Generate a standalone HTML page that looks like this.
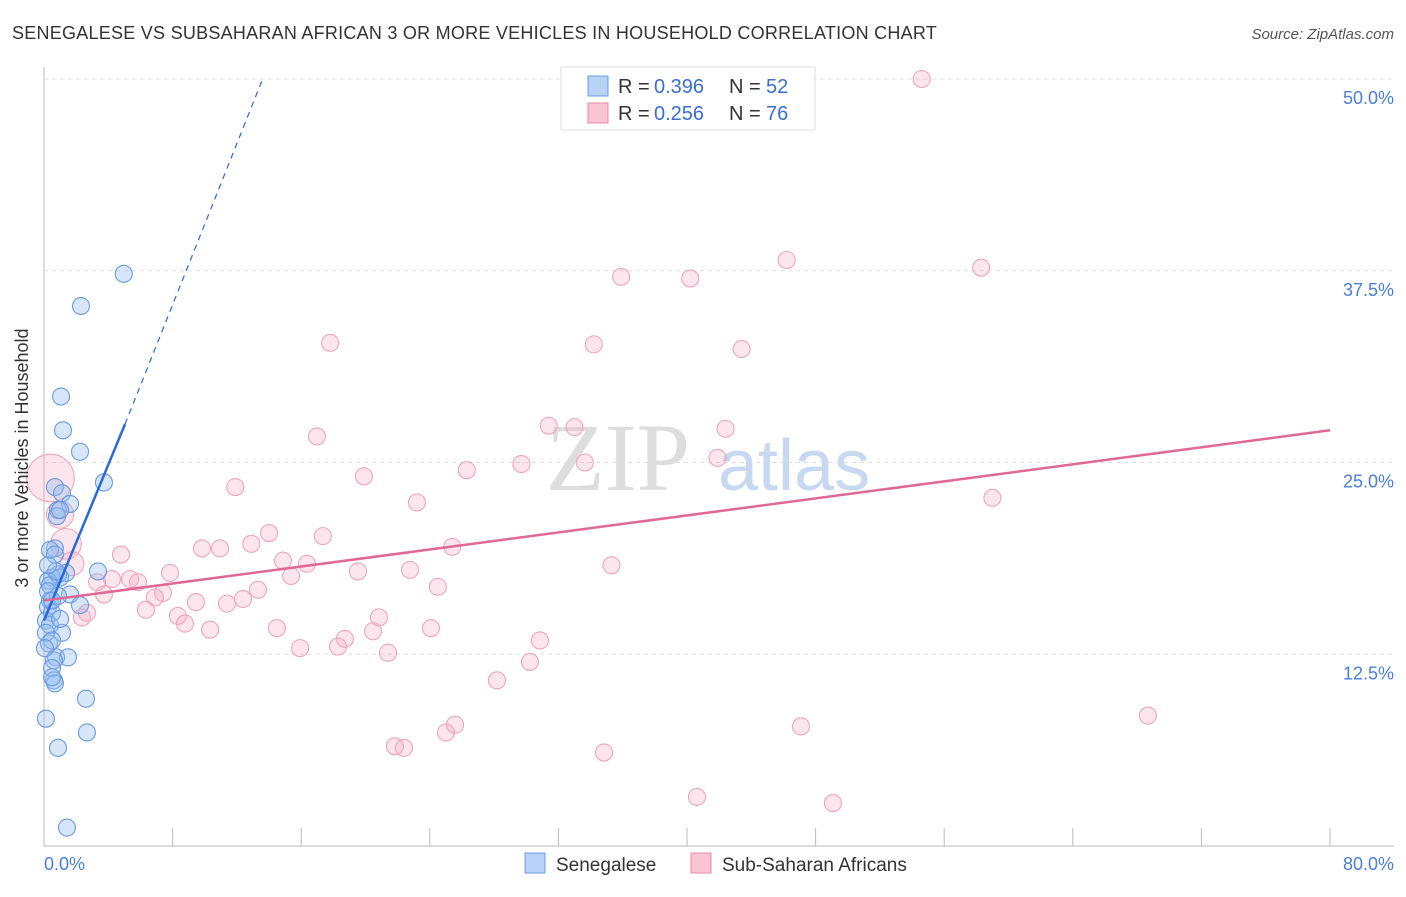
<!DOCTYPE html>
<html><head><meta charset="utf-8"><style>
body{margin:0;background:#fff;font-family:"Liberation Sans",sans-serif}
</style></head><body>
<svg width="1406" height="892" viewBox="0 0 1406 892" xmlns="http://www.w3.org/2000/svg">
<text x="12" y="39" font-size="18" fill="#333" letter-spacing="0.25">SENEGALESE VS SUBSAHARAN AFRICAN 3 OR MORE VEHICLES IN HOUSEHOLD CORRELATION CHART</text>
<text x="1394" y="39" font-size="15" fill="#555" font-style="italic" text-anchor="end">Source: ZipAtlas.com</text>
<g id="grid"></g>
<text x="690" y="490" font-size="96" fill="#ddd" font-family="Liberation Serif" text-anchor="end">ZIP</text>
<text x="718" y="490" font-size="72" fill="#c8d8f0">atlas</text>
<g id="pts"></g>
<g id="lines"></g>
<text x="28" y="458" font-size="18" fill="#333" transform="rotate(-90 28 458)" text-anchor="middle">3 or more Vehicles in Household</text>
<text x="44" y="870" font-size="18" fill="#4a7fd4">0.0%</text>
<text x="1394" y="870" font-size="18" fill="#4a7fd4" text-anchor="end">80.0%</text>
<g>
<rect x="561" y="67" width="254" height="63" fill="#fff" stroke="#ddd"/>
<rect x="588" y="76" width="20" height="20" fill="#b8d2f5" stroke="#6a9be0"/>
<rect x="588" y="103" width="20" height="20" fill="#fac4d4" stroke="#e88aa8"/>
<text x="618" y="93" font-size="20" fill="#333">R =</text>
<text x="654" y="93" font-size="20" fill="#3a6fd0">0.396</text>
<text x="729" y="93" font-size="20" fill="#333">N =</text>
<text x="766" y="93" font-size="20" fill="#3a6fd0">52</text>
<text x="618" y="120" font-size="20" fill="#333">R =</text>
<text x="654" y="120" font-size="20" fill="#3a6fd0">0.256</text>
<text x="729" y="120" font-size="20" fill="#333">N =</text>
<text x="766" y="120" font-size="20" fill="#3a6fd0">76</text>
</g>
<g>
<rect x="525" y="853" width="20" height="20" fill="#b8d2f5" stroke="#6a9be0"/>
<text x="556" y="871" font-size="19" fill="#333">Senegalese</text>
<rect x="691" y="853" width="20" height="20" fill="#fac4d4" stroke="#e88aa8"/>
<text x="722" y="871" font-size="19" fill="#333">Sub-Saharan Africans</text>
</g>
</svg>
<script>
const yTicks=[12.5,25,37.5,50];
const yTickLabels=["12.5%","25.0%","37.5%","50.0%"];
const xTicks=[0,8,16,24,32,40,48,56,64,72,80];
const blueX=[4.96,2.3,1.06,1.18,2.24,3.73,0.68,1.12,1.62,0.87,0.81,1.0,0.68,0.37,3.36,1.37,0.87,0.5,1.0,0.25,0.37,0.75,1.62,2.24,0.37,0.25,0.5,0.12,0.37,1.12,0.31,0.75,1.49,0.62,0.5,0.62,0.68,0.5,2.61,0.12,2.67,0.87,1.43,0.25,0.12,0.5,0.87,0.68,0.25,0.5,1.0,0.06];
const blueY=[37.3,35.2,29.3,27.1,25.7,23.7,23.4,23.0,22.3,21.9,21.5,21.9,19.4,19.3,17.9,17.8,17.7,17.5,17.5,17.3,17.0,17.9,16.4,15.7,16.0,15.6,15.2,14.7,14.4,13.9,13.2,12.3,12.3,12.1,11.6,10.8,10.6,11.0,9.6,8.3,7.4,6.4,1.2,16.6,13.9,13.4,16.3,19.0,18.3,16.0,14.8,12.9];
const pinkX=[54.6,46.2,58.3,35.9,40.2,17.8,34.2,43.4,16.98,31.4,33.0,42.4,33.65,29.7,41.9,26.3,19.9,11.9,59.0,23.2,14.0,17.35,12.9,9.83,10.95,25.4,4.79,14.87,16.36,35.3,19.53,22.77,7.84,15.37,4.23,5.35,5.85,3.3,24.5,13.31,7.4,3.73,6.9,12.38,11.38,9.45,6.34,8.33,2.67,2.36,8.77,20.84,10.33,14.49,24.07,20.47,18.72,30.85,18.29,15.93,21.4,30.23,28.18,68.67,47.09,25.57,25.01,21.83,22.39,34.84,40.62,49.08,0.4,1.0,1.37,1.74];
const pinkY=[50.0,38.2,37.7,37.1,37.0,32.8,32.7,32.4,26.7,27.4,27.3,27.2,25.0,24.9,25.3,24.5,24.1,23.4,22.7,22.4,20.4,20.2,19.7,19.4,19.4,19.5,19.0,18.6,18.4,18.3,17.9,18.0,17.8,17.6,17.4,17.4,17.2,17.2,16.9,16.7,16.5,16.4,16.2,16.1,15.8,15.9,15.4,15.0,15.2,14.9,14.5,14.9,14.1,14.2,14.2,14.0,13.5,13.4,13.0,12.9,12.6,12.0,10.8,8.5,7.8,7.9,7.4,6.5,6.4,6.1,3.2,2.8,23.99,21.6,19.7,18.4];
const pinkR=[10,10,10,10,10,10,10,10,10,10,10,10,10,10,10,10,10,10,10,10,10,10,10,10,10,10,10,10,10,10,10,10,10,10,10,10,10,10,10,10,10,10,10,10,10,10,10,10,10,10,10,10,10,10,10,10,10,10,10,10,10,10,10,10,10,10,10,10,10,10,10,10,28,16,18,14];
const X=v=>44+v*(1330-44)/80, Y=v=>846-v*(846-79)/50;
const NS="http://www.w3.org/2000/svg";
function mk(t,a,p){const e=document.createElementNS(NS,t);for(const k in a)e.setAttribute(k,a[k]);p.appendChild(e);return e;}
const g=document.getElementById('grid');
let ax=mk('line',{x1:44,y1:67,x2:44,y2:846,stroke:'#bbb'},g);


let bx=mk('line',{x1:44,y1:846,x2:1394,y2:846,stroke:'#bbb'},g);


yTicks.forEach((v,i)=>{
 const l=mk('line',{x1:44,x2:1394,y1:Y(v),y2:Y(v),stroke:'#ddd','stroke-dasharray':'4,4'},g);
 
 
 const t=mk('text',{x:1394,y:Y(v)+25,'font-size':18,fill:'#4a7fd4','text-anchor':'end'},g);
 t.textContent=yTickLabels[i];
 
 
});
xTicks.forEach(v=>{
 const l=mk('line',{x1:X(v),x2:X(v),y1:828,y2:846,stroke:'#bbb'},g);
 
 
});
const p=document.getElementById('pts');
pinkX.forEach((v,i)=>{
 const c=mk('circle',{cx:X(v),cy:Y(pinkY[i]),r:pinkR[i]*0.85,fill:'rgba(246,170,195,0.3)',stroke:'#eea5bd','stroke-width':1.1},p);
 
 
});
blueX.forEach((v,i)=>{
 const c=mk('circle',{cx:X(v),cy:Y(blueY[i]),r:8.5,fill:'rgba(150,190,240,0.38)',stroke:'#6b9ade','stroke-width':1.1},p);
 
 
});
const L=document.getElementById('lines');
let a=mk('line',{x1:X(0),y1:Y(14.7),x2:X(5.04),y2:Y(27.5),stroke:'#2a6ad8','stroke-width':2.5},L);


let b=mk('line',{x1:X(5.04),y1:Y(27.5),x2:X(13.6),y2:Y(50),stroke:'#2a6ad8','stroke-width':1.2,'stroke-dasharray':'6,5'},L);


let c=mk('line',{x1:X(0),y1:Y(16.0),x2:X(80),y2:Y(27.1),stroke:'#e06894','stroke-width':2.5},L);


</script>
</body></html>
